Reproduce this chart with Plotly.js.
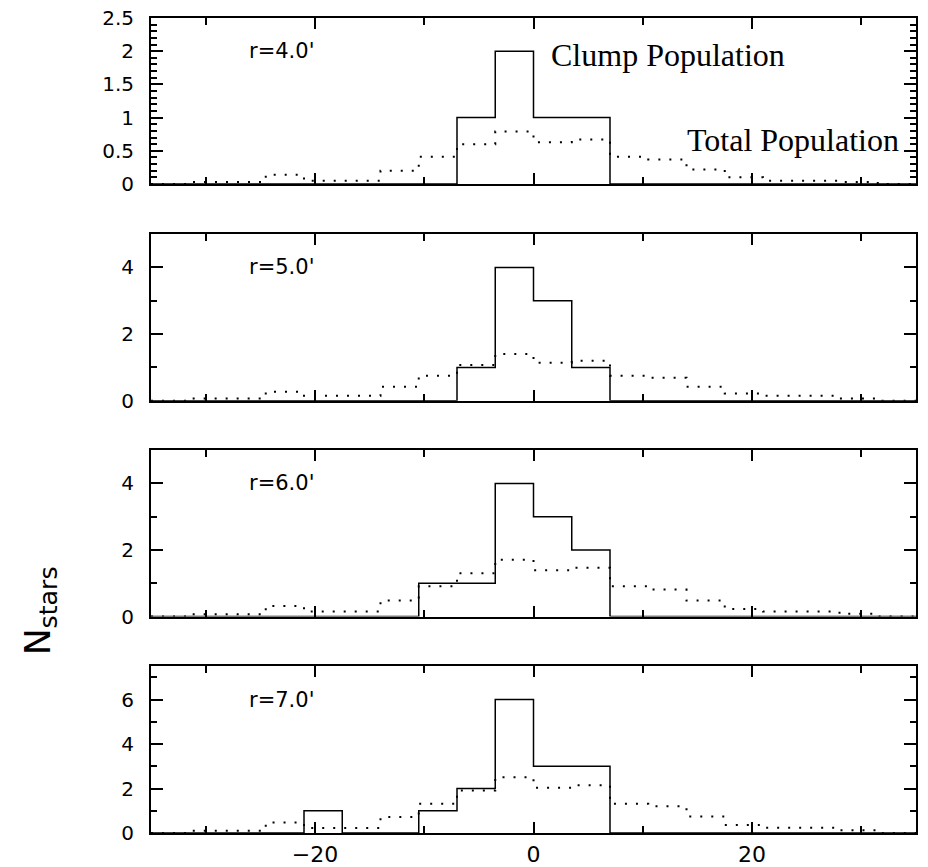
<!DOCTYPE html>
<html><head><meta charset="utf-8">
<script src="https://cdn.plot.ly/plotly-3.0.1.min.js"></script>
<style>html,body{margin:0;padding:0;background:#fff}</style>
</head><body><div id="chart" style="width:928px;height:867px"></div>
<script>
// bin edges (21 edges, 20 bins of width 3.5)
const binEdges = [-35,-31.5,-28,-24.5,-21,-17.5,-14,-10.5,-7,-3.5,0,3.5,7,10.5,14,17.5,21,24.5,28,31.5,35];
// Clump population counts
const clumpR4 = [0,0,0,0,0,0,0,0,1,2,1,1,0,0,0,0,0,0,0,0];
const clumpR5 = [0,0,0,0,0,0,0,0,1,4,3,1,0,0,0,0,0,0,0,0];
const clumpR6 = [0,0,0,0,0,0,0,1,1,4,3,2,0,0,0,0,0,0,0,0];
const clumpR7 = [0,0,0,0,1,0,0,1,2,6,3,3,0,0,0,0,0,0,0,0];
// Total population (scaled)
const totalR4 = [0,0.03,0.03,0.14,0.05,0.05,0.2,0.41,0.6,0.79,0.63,0.67,0.41,0.37,0.22,0.1,0.05,0.05,0.03,0];
const totalR5 = [0,0.07,0.07,0.27,0.15,0.15,0.42,0.75,1.07,1.4,1.14,1.2,0.75,0.69,0.42,0.22,0.15,0.15,0.07,0];
const totalR6 = [0,0.07,0.07,0.32,0.15,0.15,0.48,0.91,1.3,1.71,1.39,1.47,0.91,0.81,0.48,0.23,0.15,0.15,0.08,0];
const totalR7 = [0,0.1,0.1,0.47,0.23,0.23,0.72,1.31,1.91,2.51,2.04,2.15,1.31,1.2,0.74,0.36,0.24,0.24,0.12,0];
// panel labels
const radiusLabels = ["r=4.0'", "r=5.0'", "r=6.0'", "r=7.0'"];

const panels = [
  {clump: clumpR4, total: totalR4, yr: [0, 2.5], dt: 0.5, mdt: 0.1, dom: [0.7963, 1], ly: 2},
  {clump: clumpR5, total: totalR5, yr: [0, 5], dt: 2, mdt: 1, dom: [0.5303, 0.7349], ly: 4},
  {clump: clumpR6, total: totalR6, yr: [0, 5], dt: 2, mdt: 1, dom: [0.2656, 0.4697], ly: 4},
  {clump: clumpR7, total: totalR7, yr: [0, 7.5], dt: 2, mdt: 1, dom: [0, 0.2046], ly: 6}
];

function stepY(v) { return v.concat([v[v.length - 1]]); }

const traces = [];
const layout = {
  width: 928, height: 867,
  margin: {l: 151, r: 12, t: 18, b: 34},
  paper_bgcolor: '#fff', plot_bgcolor: '#fff',
  showlegend: false,
  font: {family: 'DejaVu Sans', size: 20, color: '#000'},
  annotations: []
};

panels.forEach((p, i) => {
  const n = i === 0 ? '' : String(i + 1);
  const xa = 'x' + n, ya = 'y' + n;
  traces.push({
    x: binEdges, y: stepY(p.total), xaxis: xa, yaxis: ya,
    type: 'scatter', mode: 'lines', line: {shape: 'hv', color: '#000', width: 2, dash: '2px,9px'},
    hoverinfo: 'skip'
  });
  traces.push({
    x: binEdges, y: stepY(p.clump), xaxis: xa, yaxis: ya,
    type: 'scatter', mode: 'lines', line: {shape: 'hv', color: '#000', width: 1.5},
    hoverinfo: 'skip'
  });
  layout['xaxis' + n] = {
    domain: [0, 1], range: [-35, 35], anchor: ya,
    showgrid: false, zeroline: false,
    showline: true, linecolor: '#000', linewidth: 2, mirror: 'ticks',
    ticks: 'inside', ticklen: 11, tickwidth: 2, tickcolor: '#000',
    tickmode: 'linear', tick0: 0, dtick: 20,
    minor: {ticks: 'inside', ticklen: 7, tickwidth: 2, tickcolor: '#000', dtick: 10},
    showticklabels: i === 3,
    tickfont: {family: 'DejaVu Sans', size: 22, color: '#000'},
    ticklabelstandoff: 1
  };
  layout['yaxis' + n] = {
    domain: p.dom, range: p.yr, anchor: xa,
    showgrid: false, zeroline: false,
    showline: true, linecolor: '#000', linewidth: 2, mirror: 'ticks',
    ticks: 'inside', ticklen: 12, tickwidth: 2, tickcolor: '#000',
    tickmode: 'linear', tick0: 0, dtick: p.dt,
    minor: {ticks: 'inside', ticklen: 6, tickwidth: 2, tickcolor: '#000', dtick: p.mdt},
    tickfont: {family: 'DejaVu Sans', size: 20, color: '#000'},
    ticklabelstandoff: 11
  };
  layout.annotations.push({
    xref: xa, yref: ya, x: -26.2, y: p.ly, xanchor: 'left', yanchor: 'middle',
    text: radiusLabels[i], showarrow: false,
    font: {family: 'DejaVu Sans', size: 21, color: '#000'}
  });
});

layout.annotations.push({
  xref: 'x', yref: 'y', x: 1.46, y: 1.95, xanchor: 'left', yanchor: 'middle',
  text: 'Clump Population', showarrow: false,
  font: {family: 'Liberation Serif', size: 32, color: '#000'}
});
layout.annotations.push({
  xref: 'x', yref: 'y', x: 33.6, y: 0.66, xanchor: 'right', yanchor: 'middle',
  text: 'Total Population', showarrow: false,
  font: {family: 'Liberation Serif', size: 32, color: '#000'}
});
layout.annotations.push({
  xref: 'paper', yref: 'paper', x: -0.145, y: 0.2721, xanchor: 'center', yanchor: 'middle',
  text: 'N<sub>stars</sub>', textangle: -90, showarrow: false,
  font: {family: 'DejaVu Sans', size: 36, color: '#000'}
});

Plotly.newPlot('chart', traces, layout, {displayModeBar: false, staticPlot: true});
</script>
</body></html>
